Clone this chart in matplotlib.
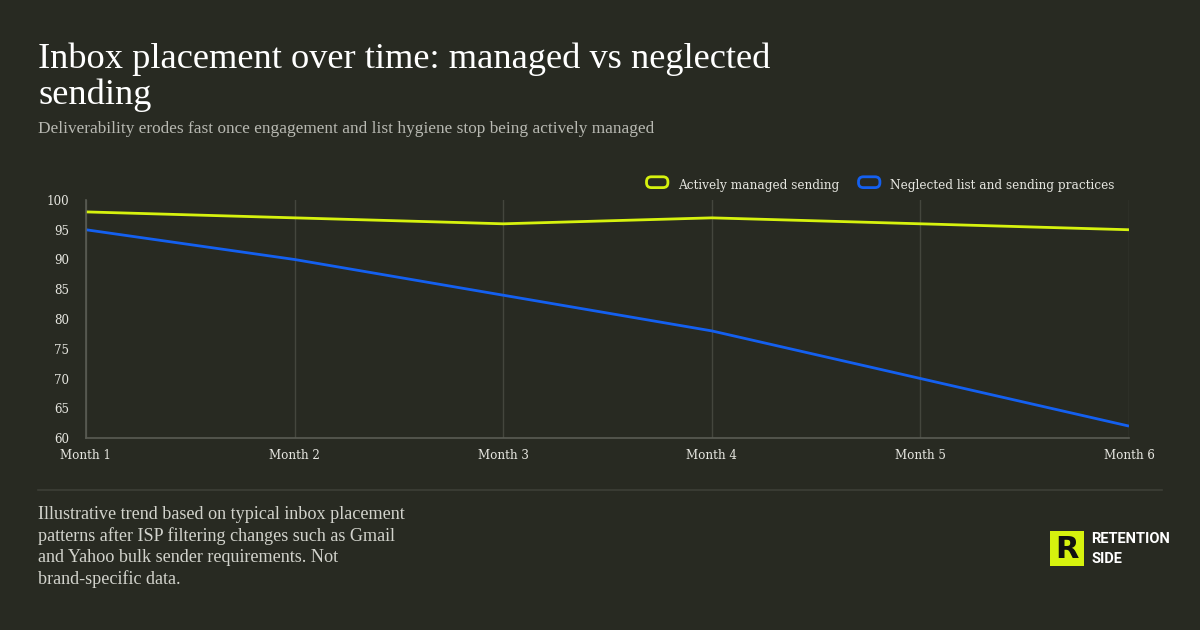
import matplotlib.pyplot as plt
import matplotlib.patches as mpatches
from matplotlib.legend_handler import HandlerPatch

# data
months = ["Month 1", "Month 2", "Month 3", "Month 4", "Month 5", "Month 6"]
managed = [98, 97, 96, 97, 96, 95]
neglected = [95, 90, 84, 78, 70, 62]
labels = ["Actively managed sending", "Neglected list and sending practices"]

bg = "#282a22"
green = "#d6f20e"
blue = "#1460f0"
text_col = "#e6e6e0"
grid_col = "#44463d"

W, H = 1200, 630
fig = plt.figure(figsize=(12, 6.3), dpi=100, facecolor=bg)

# plot area in pixels: x 86..1129, y 200..438
ax = fig.add_axes([86 / W, 1 - 438 / H, (1129 - 86) / W, (438 - 200) / H])
ax.set_facecolor(bg)

x = list(range(len(months)))
ax.plot(x, managed, color=green, lw=2, solid_capstyle="butt")
ax.plot(x, neglected, color=blue, lw=2, solid_capstyle="butt")

ax.set_xlim(0, len(months) - 1)
ax.set_ylim(60, 100)
ax.set_yticks(range(60, 101, 5))
ax.set_xticks(x)
ax.set_xticklabels(months)
ax.grid(axis="x", color=grid_col, lw=1)
ax.grid(axis="y", visible=False)
for s in ["top", "right"]:
    ax.spines[s].set_visible(False)
for s in ["left", "bottom"]:
    ax.spines[s].set_color("#5a5c54")
    ax.spines[s].set_linewidth(1.2)
ax.tick_params(length=0, colors=text_col, labelsize=8.6)
ax.tick_params(axis="x", pad=8)
ax.tick_params(axis="y", pad=12)
for t in ax.get_xticklabels() + ax.get_yticklabels():
    t.set_fontfamily("DejaVu Serif")


class RoundBox(HandlerPatch):
    def create_artists(self, legend, orig, xd, yd, width, height, fontsize, trans):
        p = mpatches.FancyBboxPatch((xd + 1, yd), width - 2, height,
                                    boxstyle="round,pad=0,rounding_size=3.5",
                                    facecolor="none", edgecolor=orig.get_edgecolor(),
                                    lw=2, transform=trans)
        return [p]


handles = [mpatches.Patch(facecolor="none", edgecolor=green),
           mpatches.Patch(facecolor="none", edgecolor=blue)]
leg = fig.legend(handles, labels, loc="upper right", bbox_to_anchor=(1125 / W, 1 - 168 / H),
                 ncol=2, frameon=False, handlelength=2.0, handleheight=1.0,
                 handletextpad=0.7, columnspacing=1.5,
                 handler_map={mpatches.Patch: RoundBox()},
                 prop={"family": "DejaVu Serif", "size": 8.7})
for t in leg.get_texts():
    t.set_color(text_col)

# titles
fig.text(38 / W, 1 - 42 / H, "Inbox placement over time: managed vs neglected\nsending",
         color="white", fontsize=26.2, family="Liberation Serif", va="top", ha="left",
         linespacing=1.1)
fig.text(38 / W, 1 - 121 / H,
         "Deliverability erodes fast once engagement and list hygiene stop being actively managed",
         color="#b8b9b2", fontsize=12.4, family="Liberation Serif", va="top", ha="left")

# separator
fig.add_artist(plt.Line2D([38 / W, 1162 / W], [1 - 490 / H, 1 - 490 / H],
                          color="#3d3f37", lw=1.2))

# footnote
fig.text(38 / W, 1 - 506 / H,
         "Illustrative trend based on typical inbox placement\n"
         "patterns after ISP filtering changes such as Gmail\n"
         "and Yahoo bulk sender requirements. Not\n"
         "brand-specific data.",
         color="#d2d3cc", fontsize=13.1, family="Liberation Serif", va="top", ha="left",
         linespacing=1.3)

# logo
fig.add_artist(mpatches.Rectangle((1050 / W, 1 - 566 / H), 34 / W, 35 / H,
                                  facecolor=green, edgecolor="none"))
fig.text(1067 / W, 1 - 549 / H, "R", color="#111111", fontsize=22, fontweight="bold",
         family="DejaVu Sans", ha="center", va="center")
fig.text(1091 / W, 1 - 539 / H, "RETENTION", color="white", fontsize=10.5,
         fontweight="bold", family="Roboto", va="center", ha="left")
fig.text(1091 / W, 1 - 559 / H, "SIDE", color="white", fontsize=10.5,
         fontweight="bold", family="Roboto", va="center", ha="left")

fig.savefig("out.png", facecolor=bg)
